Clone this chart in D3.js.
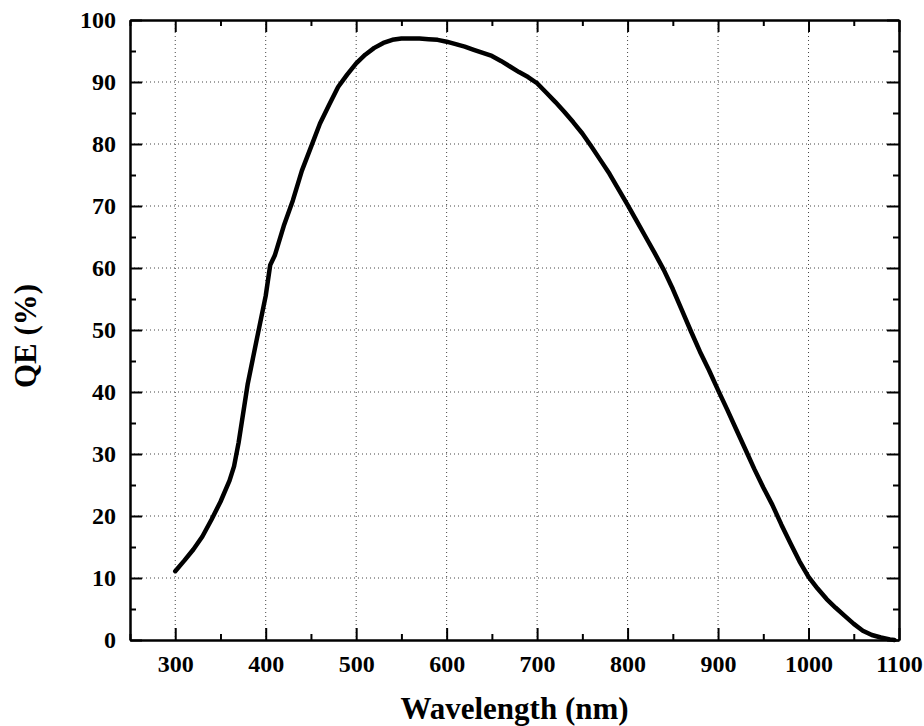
<!DOCTYPE html>
<html>
<head>
<meta charset="utf-8">
<script src="https://cdn.jsdelivr.net/npm/d3@7"></script>
<style>
    body { margin: 0; background: #fff; }
    svg { display: block; }
    text { font-family: "Liberation Serif", "Times New Roman", serif; font-weight: bold; fill: #000; }
</style>
</head>
<body>
<div id="output"></div>
<script>
// QE curve
var wavelength = [300, 310, 320, 330, 340, 350, 360, 365, 370, 380, 390, 400, 405, 410, 420, 430, 440, 450, 460, 470, 480, 490,
    500, 510, 520, 530, 540, 550, 560, 570, 580, 590, 600, 610, 620, 630, 640, 650, 660, 670, 680, 690,
    700, 710, 720, 730, 740, 750, 760, 770, 780, 790, 800, 810, 820, 830, 840, 850, 860, 870, 880, 890,
    900, 910, 920, 930, 940, 950, 960, 970, 980, 990, 1000, 1010, 1020, 1030, 1040, 1050, 1060, 1070, 1080, 1090, 1095]
var qe = [11.1, 12.8, 14.6, 16.7, 19.4, 22.3, 25.7, 28.0, 31.8, 41.2, 48.4, 55.5, 60.5, 62.0, 66.8, 70.9, 75.7, 79.5, 83.3, 86.3, 89.2, 91.2,
    93.0, 94.4, 95.5, 96.3, 96.8, 97.0, 97.0, 97.0, 96.9, 96.8, 96.5, 96.1, 95.7, 95.2, 94.7, 94.2, 93.4, 92.5, 91.6, 90.8,
    89.8, 88.3, 86.8, 85.2, 83.5, 81.7, 79.6, 77.4, 75.2, 72.7, 70.2, 67.6, 65.0, 62.4, 59.7, 56.6, 53.2, 49.8, 46.5, 43.5,
    40.3, 37.2, 34.0, 30.8, 27.6, 24.6, 21.8, 18.6, 15.6, 12.7, 10.2, 8.3, 6.6, 5.2, 3.9, 2.6, 1.5, 0.8, 0.4, 0.1, 0.0]

var xMajor = [300, 400, 500, 600, 700, 800, 900, 1000, 1100]
var xMinor = [250, 350, 450, 550, 650, 750, 850, 950, 1050]
var yMajor = [0, 10, 20, 30, 40, 50, 60, 70, 80, 90, 100]
var yMinor = [5, 15, 25, 35, 45, 55, 65, 75, 85, 95]
var xTitle = 'Wavelength (nm)'
var yTitle = 'QE (%)'

var width = 924
var height = 726
var margin = {top: 20, right: 25, bottom: 86, left: 130}
var plotW = width - margin.left - margin.right
var plotH = height - margin.top - margin.bottom

var x = d3.scaleLinear().domain([250, 1100]).range([0, plotW])
var y = d3.scaleLinear().domain([0, 100]).range([plotH, 0])

var svg = d3.select('#output').append('svg')
    .attr('width', width)
    .attr('height', height)

var g = svg.append('g')
    .attr('transform', 'translate(' + margin.left + ',' + margin.top + ')')

// dotted grid at the inner major ticks
g.append('g').selectAll('line')
    .data(xMajor.filter(function(d) {return d > 250 && d < 1100}))
    .enter().append('line')
    .attr('x1', function(d) {return x(d)})
    .attr('x2', function(d) {return x(d)})
    .attr('y1', 0)
    .attr('y2', plotH)
    .attr('stroke', '#444')
    .attr('stroke-width', 1)
    .attr('stroke-dasharray', '1,3')

g.append('g').selectAll('line')
    .data(yMajor.filter(function(d) {return d > 0 && d < 100}))
    .enter().append('line')
    .attr('x1', 0)
    .attr('x2', plotW)
    .attr('y1', function(d) {return y(d)})
    .attr('y2', function(d) {return y(d)})
    .attr('stroke', '#444')
    .attr('stroke-width', 1)
    .attr('stroke-dasharray', '1,3')

var points = wavelength.map(function(w, i) {return [w, qe[i]]})

g.append('path')
    .datum(points)
    .attr('fill', 'none')
    .attr('stroke', '#000')
    .attr('stroke-width', 4.5)
    .attr('stroke-linejoin', 'round')
    .attr('stroke-linecap', 'round')
    .attr('d', d3.line()
        .x(function(d) {return x(d[0])})
        .y(function(d) {return y(d[1])}))

var fmt = function(d) {return d}
var none = function() {return ''}

var drawAxis = function(axis, tx, ty) {
    var a = g.append('g')
        .attr('transform', 'translate(' + tx + ',' + ty + ')')
        .call(axis)
    a.select('.domain').attr('stroke', '#000').attr('stroke-width', 2)
    a.selectAll('.tick line').attr('stroke', '#000').attr('stroke-width', 2)
    a.selectAll('.tick text')
        .style('font-size', '24px')
        .style('font-family', '"Liberation Serif", "Times New Roman", serif')
        .style('font-weight', 'bold')
        .attr('fill', '#000')
    return a
}

// bottom and top
drawAxis(d3.axisBottom(x).tickValues(xMajor).tickSize(-12).tickSizeOuter(0).tickPadding(15).tickFormat(fmt), 0, plotH)
drawAxis(d3.axisBottom(x).tickValues(xMinor).tickSize(-6).tickSizeOuter(0).tickFormat(none), 0, plotH)
drawAxis(d3.axisTop(x).tickValues(xMajor).tickSize(-12).tickSizeOuter(0).tickFormat(none), 0, 0)
drawAxis(d3.axisTop(x).tickValues(xMinor).tickSize(-6).tickSizeOuter(0).tickFormat(none), 0, 0)

// left and right
drawAxis(d3.axisLeft(y).tickValues(yMajor).tickSize(-12).tickSizeOuter(0).tickPadding(14).tickFormat(fmt), 0, 0)
drawAxis(d3.axisLeft(y).tickValues(yMinor).tickSize(-6).tickSizeOuter(0).tickFormat(none), 0, 0)
drawAxis(d3.axisRight(y).tickValues(yMajor).tickSize(-12).tickSizeOuter(0).tickFormat(none), plotW, 0)
drawAxis(d3.axisRight(y).tickValues(yMinor).tickSize(-6).tickSizeOuter(0).tickFormat(none), plotW, 0)

svg.append('text')
    .attr('x', margin.left + plotW / 2)
    .attr('y', 719)
    .attr('text-anchor', 'middle')
    .style('font-size', '31px')
    .text(xTitle)

svg.append('text')
    .attr('transform', 'translate(36,' + (margin.top + plotH / 2 + 6) + ') rotate(-90)')
    .attr('text-anchor', 'middle')
    .style('font-size', '31px')
    .text(yTitle)
</script>
</body>
</html>
